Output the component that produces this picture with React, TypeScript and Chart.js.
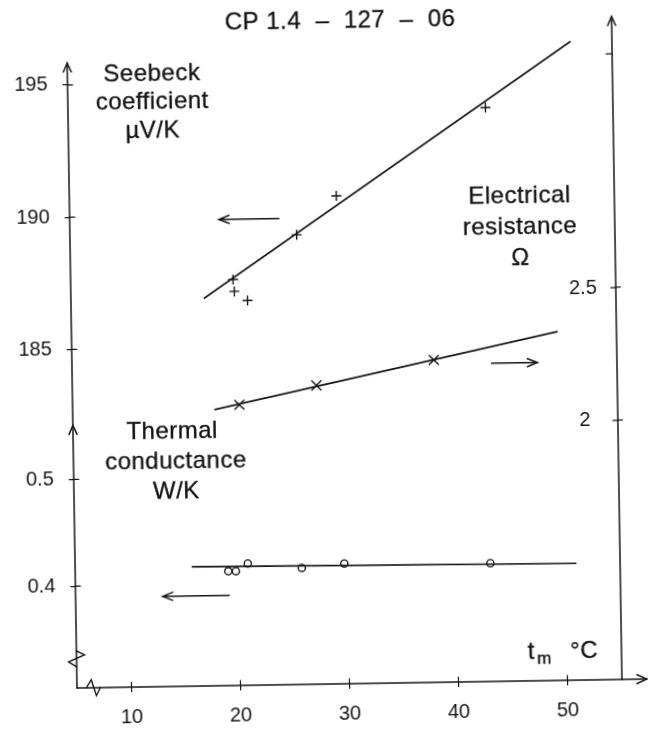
import React, { useEffect, useRef } from 'react';
import { Chart, registerables } from 'chart.js';

Chart.register(...registerables);

// ---------- data ----------
const TITLE = 'CP 1.4  –  127  –  06';

const X_TICKS = [10, 20, 30, 40, 50];
const SEEBECK_TICKS = [185, 190, 195];
const COND_TICKS = [0.4, 0.5];
const RES_TICKS = [2, 2.5];
const RES_UNLABELLED_TICKS = [3.38];

// Seebeck coefficient (µV/K), "+" markers
const seebeckT = [19.9, 20.0, 21.2, 25.8, 29.5, 43.3];
const seebeckV = [187.55, 187.1, 186.75, 189.2, 190.65, 193.9];
const seebeckFitT = [17.2, 51.2];
const seebeckFitV = [186.85, 196.35];

// Electrical resistance (Ω), "x" markers
const resT = [20.3, 27.4, 38.2];
const resV = [2.081, 2.149, 2.238];
const resFitT = [18.0, 49.6];
const resFitV = [2.064, 2.338];

// Thermal conductance (W/K), "o" markers
const condT = [19.05, 19.75, 20.85, 25.8, 29.7, 43.1];
const condV = [0.4118, 0.4117, 0.4187, 0.4138, 0.4173, 0.4154];
const condFitT = [15.7, 51.0];
const condFitV = [0.4164, 0.414];

// ---------- style ----------
const INK = '#151515';
const FONT = '"Liberation Sans", Arial, sans-serif';

const pts = (xs: number[], ys: number[]) => xs.map((x, i) => ({ x, y: ys[i] }));

function arrowHead(c: CanvasRenderingContext2D, tx: number, ty: number, dx: number, dy: number, len = 9, half = 4) {
  const n = Math.hypot(dx, dy);
  const ux = dx / n, uy = dy / n;
  const px = -uy, py = ux;
  c.beginPath();
  c.moveTo(tx - ux * len + px * half, ty - uy * len + py * half);
  c.lineTo(tx, ty);
  c.lineTo(tx - ux * len - px * half, ty - uy * len - py * half);
  c.stroke();
}

function seg(c: CanvasRenderingContext2D, x1: number, y1: number, x2: number, y2: number) {
  c.beginPath();
  c.moveTo(x1, y1);
  c.lineTo(x2, y2);
  c.stroke();
}

const decor = {
  id: 'decor',
  afterDraw(chart: any) {
    const c: any = chart.ctx;
    const xs = chart.scales.x;
    const yS = chart.scales.yS;
    const yK = chart.scales.yK;
    const yR = chart.scales.yR;
    const { left, right, top, bottom } = chart.chartArea;
    c.save();
    c.strokeStyle = INK;
    c.fillStyle = INK;
    c.lineWidth = 1.5;
    c.lineCap = 'round';

    // left axis (shared by Seebeck and thermal conductance)
    const sTip = yS.getPixelForValue(195.83);
    seg(c, left, bottom, left, sTip);
    arrowHead(c, left, sTip, 0, -1);
    arrowHead(c, left, yK.top, 0, -1);
    // right axis
    seg(c, right, bottom, right, top - 2);
    arrowHead(c, right, top - 2, 0, -1);
    // x axis
    seg(c, left, bottom, chart.width - 1, bottom);
    arrowHead(c, chart.width - 1, bottom, 1, 0, 10, 4.5);

    // inner halves of tick marks
    c.lineWidth = 1.2;
    xs.ticks.forEach((t: any) => {
      const p = xs.getPixelForValue(t.value);
      seg(c, p, bottom, p, bottom - 5);
    });
    [yS, yK].forEach((s: any) =>
      s.ticks.forEach((t: any) => {
        const p = s.getPixelForValue(t.value);
        seg(c, left, p, left + 5, p);
      })
    );
    yR.ticks.forEach((t: any) => {
      if (RES_UNLABELLED_TICKS.includes(t.value)) return;
      const p = yR.getPixelForValue(t.value);
      seg(c, right, p, right - 5, p);
    });
    // unlabelled tick near the top of the right axis (inner side only)
    RES_UNLABELLED_TICKS.forEach((v) => {
      const p = yR.getPixelForValue(v);
      seg(c, right, p, right - 6, p);
    });

    // axis breaks
    c.lineWidth = 1.4;
    const by = yK.getPixelForValue(0.331);
    c.beginPath();
    c.moveTo(left, by - 9);
    c.lineTo(left + 8, by - 5);
    c.lineTo(left - 8, by + 2);
    c.lineTo(left, by + 7);
    c.stroke();
    const bx = xs.getPixelForValue(6.5);
    c.beginPath();
    c.moveTo(bx - 7, bottom);
    c.lineTo(bx - 2, bottom - 8);
    c.lineTo(bx + 3, bottom + 8);
    c.lineTo(bx + 7, bottom);
    c.stroke();

    // direction arrows
    c.lineWidth = 1.5;
    const a1y = yS.getPixelForValue(189.83);
    const a1x1 = xs.getPixelForValue(24.2), a1x2 = xs.getPixelForValue(18.7);
    seg(c, a1x1, a1y, a1x2, a1y);
    arrowHead(c, a1x2, a1y, -1, 0, 10, 4);
    const a2y = yR.getPixelForValue(2.2226);
    const a2x1 = xs.getPixelForValue(43.5), a2x2 = xs.getPixelForValue(47.7);
    seg(c, a2x1, a2y, a2x2, a2y);
    arrowHead(c, a2x2, a2y, 1, 0, 10, 4);
    const a3y = yK.getPixelForValue(0.3891);
    const a3x1 = xs.getPixelForValue(19.1), a3x2 = xs.getPixelForValue(13.0);
    seg(c, a3x1, a3y, a3x2, a3y);
    arrowHead(c, a3x2, a3y, -1, 0, 10, 4);

    // texts (slightly thickened, like the scanned lettering)
    c.textAlign = 'center';
    c.textBaseline = 'middle';
    c.letterSpacing = '0.5px';
    c.lineWidth = 0.35;
    const txt = (s: string, x: number, y: number) => {
      c.fillText(s, x, y);
      c.strokeText(s, x, y);
    };
    c.font = `24px ${FONT}`;
    txt(TITLE, xs.getPixelForValue(30.1), 25);

    const block = (lines: string[], cxs: number[], cy: number, lh: number) =>
      lines.forEach((s, i) => txt(s, xs.getPixelForValue(cxs[i]), cy + i * lh));
    block(['Seebeck', 'coefficient', 'µV/K'], [12.75, 12.75, 12.75], yS.getPixelForValue(195.38), 28.5);
    block(['Electrical', 'resistance', 'Ω'], [46.3, 46.3, 46.3], yR.getPixelForValue(2.848), 31);
    block(['Thermal', 'conductance', 'W/K'], [14.1, 14.4, 14.4], yK.getPixelForValue(0.5435), 30);

    // t_m °C
    c.textAlign = 'left';
    const ty = yK.getPixelForValue(0.3318);
    const tx = xs.getPixelForValue(46.4);
    c.font = `24px ${FONT}`;
    txt('t', tx, ty);
    const tw = c.measureText('t').width;
    c.font = `17px ${FONT}`;
    txt('m', tx + tw + 2, ty + 7);
    c.font = `24px ${FONT}`;
    txt('°C', xs.getPixelForValue(50.3), ty);
    c.restore();
  },
};

export default function App() {
  const ref = useRef<HTMLCanvasElement>(null);

  useEffect(() => {
    document.body.style.margin = '0';
    const canvas = ref.current;
    if (!canvas) return;

    const tickFont = { family: FONT, size: 20 };
    const gridOpts = {
      display: true,
      drawOnChartArea: false,
      drawTicks: true,
      tickLength: 5,
      color: INK,
      lineWidth: 1.2,
    };
    const rightGrid = {
      ...gridOpts,
      color: (ctx: any) => (ctx.tick && RES_UNLABELLED_TICKS.includes(ctx.tick.value) ? 'rgba(0,0,0,0)' : INK),
    };
    const fixTicks = (vals: number[]) => (scale: any) => {
      scale.ticks = vals.map((v) => ({ value: v }));
    };

    const chart = new Chart(canvas, {
      type: 'scatter',
      data: {
        datasets: [
          {
            label: 'Seebeck fit',
            data: pts(seebeckFitT, seebeckFitV),
            yAxisID: 'yS',
            showLine: true,
            borderColor: INK,
            borderWidth: 1.6,
            pointRadius: 0,
          },
          {
            label: 'Seebeck coefficient',
            data: pts(seebeckT, seebeckV),
            yAxisID: 'yS',
            pointStyle: 'cross',
            pointRadius: 5,
            borderColor: INK,
            borderWidth: 1.4,
          },
          {
            label: 'Resistance fit',
            data: pts(resFitT, resFitV),
            yAxisID: 'yR',
            showLine: true,
            borderColor: INK,
            borderWidth: 1.6,
            pointRadius: 0,
          },
          {
            label: 'Electrical resistance',
            data: pts(resT, resV),
            yAxisID: 'yR',
            pointStyle: 'crossRot',
            pointRadius: 7,
            borderColor: INK,
            borderWidth: 1.4,
          },
          {
            label: 'Conductance fit',
            data: pts(condFitT, condFitV),
            yAxisID: 'yK',
            showLine: true,
            borderColor: INK,
            borderWidth: 1.6,
            pointRadius: 0,
          },
          {
            label: 'Thermal conductance',
            data: pts(condT, condV),
            yAxisID: 'yK',
            pointStyle: 'circle',
            pointRadius: 3.6,
            borderColor: INK,
            backgroundColor: '#ffffff',
            borderWidth: 1.4,
          },
        ],
      },
      options: {
        responsive: false,
        animation: false,
        events: [],
        layout: { padding: { top: 26, left: 0, right: 0, bottom: 0 } },
        plugins: { legend: { display: false }, tooltip: { enabled: false }, title: { display: false } },
        scales: {
          x: {
            type: 'linear',
            position: 'bottom',
            min: 5,
            max: 55,
            afterBuildTicks: fixTicks(X_TICKS),
            afterFit: (s: any) => {
              s.height = 42;
            },
            ticks: { font: tickFont, color: INK, padding: 13, callback: (v: any) => String(v) },
            grid: gridOpts,
            border: { display: false },
          },
          yK: {
            type: 'linear',
            position: 'left',
            stack: 'left',
            stackWeight: 263,
            min: 0.3047,
            max: 0.5505,
            afterBuildTicks: fixTicks(COND_TICKS),
            afterFit: (s: any) => {
              s.width = 77;
            },
            ticks: { font: tickFont, color: INK, padding: 15, callback: (v: any) => String(v) },
            grid: gridOpts,
            border: { display: false },
          },
          yS: {
            type: 'linear',
            position: 'left',
            stack: 'left',
            stackWeight: 399,
            min: 182.13,
            max: 197.19,
            afterBuildTicks: fixTicks(SEEBECK_TICKS),
            afterFit: (s: any) => {
              s.width = 77;
            },
            ticks: { font: tickFont, color: INK, padding: 15, callback: (v: any) => String(v) },
            grid: gridOpts,
            border: { display: false },
          },
          yR: {
            type: 'linear',
            position: 'right',
            min: 1.0244,
            max: 3.513,
            afterBuildTicks: fixTicks([...RES_TICKS, ...RES_UNLABELLED_TICKS]),
            afterFit: (s: any) => {
              s.width = 26;
            },
            ticks: {
              font: tickFont,
              color: INK,
              mirror: true,
              padding: -19,
              crossAlign: 'center',
              callback: (v: any) => (RES_UNLABELLED_TICKS.includes(v) ? '' : String(v)),
            },
            grid: rightGrid,
            border: { display: false },
          },
        },
      },
      plugins: [decor],
    } as any);

    return () => chart.destroy();
  }, []);

  return (
    <div style={{ width: 648, height: 730, background: '#fff', overflow: 'hidden' }}>
      <canvas
        ref={ref}
        width={648}
        height={730}
        style={{ display: 'block', transform: 'rotate(-0.9deg)', transformOrigin: '77px 688px' }}
      />
    </div>
  );
}
